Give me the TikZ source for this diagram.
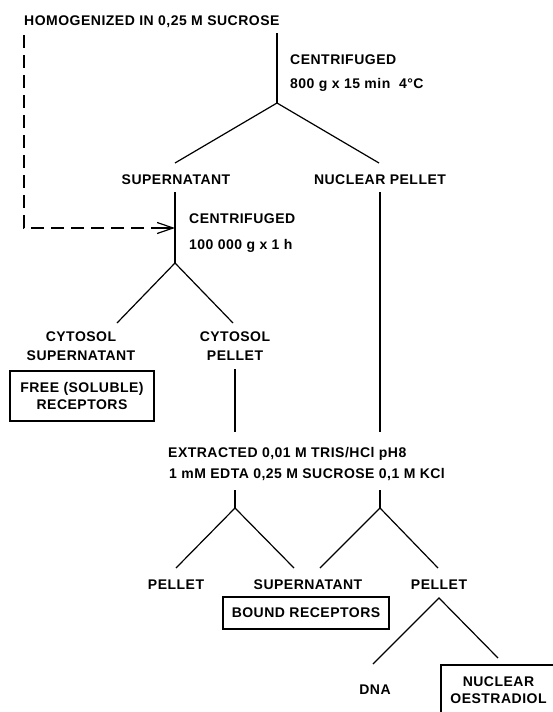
\documentclass[tikz,border=0pt]{standalone}
\usepackage{fontspec}
\setmainfont{Liberation Sans}[LetterSpace=3.5]
\usetikzlibrary{arrows.meta,calc}
\begin{document}
\begin{tikzpicture}[x=1pt,y=-1pt,
  lab/.style={font=\fontsize{14}{17}\selectfont\bfseries, inner sep=0pt},
  labl/.style={lab, anchor=base west},
  labc/.style={lab, anchor=base},
  two/.style={lab, align=center, anchor=center},
  boxed/.style={lab, draw, line width=1.2pt, align=center, anchor=center},
  conn/.style={line width=1.2pt},
  dashconn/.style={line width=1.2pt, dash pattern=on 13pt off 7pt}]
\clip (0,0) rectangle (553,712);
\fill[white] (0,0) rectangle (553,712);
% texts
\node[labl] (homog) at (24,25) {HOMOGENIZED IN 0,25 M SUCROSE};
\node[labl] (cent1) at (290,64) {CENTRIFUGED};
\node[labl] (cond1) at (290,88) {800 g x 15 min \ 4°C};
\node[labc] (sup1) at (176,184) {SUPERNATANT};
\node[labc] (np) at (380,184) {NUCLEAR PELLET};
\node[labl] (cent2) at (189,223) {CENTRIFUGED};
\node[labl] (cond2) at (189,249) {100 000 g x 1 h};
\node[two] (cytsup) at (81,346.5) {CYTOSOL\\[2pt]SUPERNATANT};
\node[two] (cytpel) at (235,346.5) {CYTOSOL\\[2pt]PELLET};
\node[boxed, minimum width=144pt, minimum height=50pt] (free) at (82,396) {FREE (SOLUBLE)\\RECEPTORS};
\node[labl] (extr1) at (168,457) {EXTRACTED 0,01 M TRIS/HCl pH8};
\node[labl] (extr2) at (169,478) {1 mM EDTA 0,25 M SUCROSE 0,1 M KCl};
\node[labc] (pel1) at (176,589) {PELLET};
\node[labc] (sup2) at (308,589) {SUPERNATANT};
\node[labc] (pel2) at (439,589) {PELLET};
\node[boxed, minimum width=166pt, minimum height=32pt] (bound) at (306,613) {BOUND RECEPTORS};
\node[labc] (dna) at (375,694) {DNA};
\node[boxed, minimum width=115pt, minimum height=51pt] (nucoe) at (498.5,690.5) {NUCLEAR\\OESTRADIOL};
% coordinates
\coordinate (t1) at (277,33);
\coordinate (a1) at (277,103);
\coordinate (a1l) at (175,163);
\coordinate (a1r) at (379,163);
\coordinate (s1) at (175,192);
\coordinate (a2) at (175,263);
\coordinate (n1) at (380,192);
\coordinate (n2) at (380,432);
\coordinate (d1) at (24,35);
\coordinate (d2) at (24,228);
\coordinate (d3) at (175,228);
\coordinate (d4) at (155,228);
\coordinate (a2l) at (117,323);
\coordinate (a2r) at (233,323);
\coordinate (c1) at (235,369);
\coordinate (c2) at (235,432);
\coordinate (e1) at (235,490);
\coordinate (a3) at (235,508);
\coordinate (a3l) at (176,568);
\coordinate (a3r) at (294,568);
\coordinate (e2) at (380,490);
\coordinate (a4) at (380,508);
\coordinate (a4l) at (320,568);
\coordinate (a4r) at (438,568);
\coordinate (a5) at (439,598);
\coordinate (a5l) at (373,664);
\coordinate (a5r) at (498,658);
% connectors
\draw[conn] (t1) -- (a1);
\draw[conn] (a1l) -- (a1) -- (a1r);
\draw[conn] (s1) -- (a2);
\draw[conn] (n1) -- (n2);
\draw[dashconn] (d1) -- (d2) -- (d4);
\draw[conn, -{Straight Barb[length=16pt,width=11pt]}] (d4) -- (d3);
\draw[conn] (a2l) -- (a2) -- (a2r);
\draw[conn] (c1) -- (c2);
\draw[conn] (e1) -- (a3);
\draw[conn] (a3l) -- (a3) -- (a3r);
\draw[conn] (e2) -- (a4);
\draw[conn] (a4l) -- (a4) -- (a4r);
\draw[conn] (a5l) -- (a5) -- (a5r);
\end{tikzpicture}
\end{document}
